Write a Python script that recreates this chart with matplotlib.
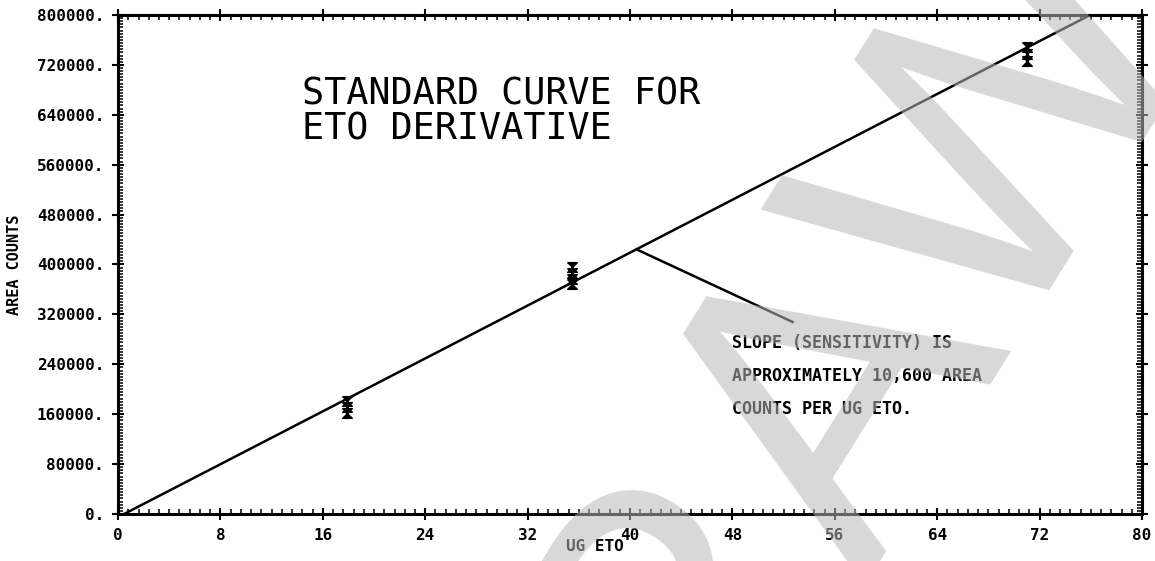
import numpy as np
import matplotlib
matplotlib.use('Agg')
import matplotlib.pyplot as plt
from matplotlib.path import Path
from matplotlib.ticker import MultipleLocator, FixedLocator

# replicate injections: ug ETO vs peak area counts
ug = [17.9, 17.9, 17.9, 35.5, 35.5, 35.5, 35.5, 71.0, 71.0, 71.0]
counts = [162000, 172000, 181000, 368000, 377000, 387000, 396000,
          727000, 738000, 748000]

# least squares line
slope = 10600
intercept = -5000
fit_x = np.array([0.0, 80.0])

xticks = np.arange(0, 81, 8)
yticks = np.arange(0, 800001, 80000)
xtick_labels = [str(v) for v in xticks]
ytick_labels = ['%d.' % v for v in yticks]

title_lines = ['STANDARD CURVE FOR', 'ETO DERIVATIVE']
note_lines = ['SLOPE (SENSITIVITY) IS', 'APPROXIMATELY 10,600 AREA',
              'COUNTS PER UG ETO.']

mono = 'DejaVu Sans Mono'

fig = plt.figure(figsize=(11.55, 5.61), dpi=100)
ax = fig.add_axes([0.1022, 0.0838, 0.8866, 0.8895])

ax.plot(fit_x, slope * fit_x + intercept, color='black', lw=1.8)

# hourglass marker for the measured points
bowtie = Path([(-1, 1), (1, 1), (-1, -1), (1, -1), (-1, 1)])
ax.plot(ug, counts, ls='none', marker=bowtie, ms=7, color='black')

# leader from the line to the note
x0 = 40.5
ax.plot([x0, 52.7], [slope * x0 + intercept, 307800], color='black', lw=1.8)

ax.set_xlim(0, 80)
ax.set_ylim(0, 800000)
ax.xaxis.set_major_locator(FixedLocator(xticks))
ax.yaxis.set_major_locator(FixedLocator(yticks))
ax.xaxis.set_minor_locator(MultipleLocator(0.8))
ax.yaxis.set_minor_locator(MultipleLocator(5000))
ax.set_xticklabels(xtick_labels, family=mono, weight='bold', fontsize=11.5)
ax.set_yticklabels(ytick_labels, family=mono, weight='bold', fontsize=11.5)

ax.tick_params(which='major', direction='inout', length=8, width=1.5,
               top=True, right=True, pad=6)
ax.tick_params(which='minor', direction='in', length=3.5, width=1.1,
               top=True, right=True)
for s in ax.spines.values():
    s.set_linewidth(2.2)

ax.set_xlabel('UG ETO', family=mono, weight='bold', fontsize=11.5)
ax.xaxis.set_label_coords(0.466, -0.05)
ax.set_ylabel('AREA COUNTS', family=mono, weight='bold', fontsize=11)
ax.yaxis.set_label_coords(-0.094, 0.5)

ax.text(14.4, 655700, title_lines[0], family=mono, fontsize=26.5,
        va='baseline', ha='left')
ax.text(14.4, 599600, title_lines[1], family=mono, fontsize=26.5,
        va='baseline', ha='left')

for i, line in enumerate(note_lines):
    ax.text(48.0, 274000 - i * 53000, line, family=mono, weight='bold',
            fontsize=12, va='center', ha='left')

# stamp across the sheet
fig.text(0.737, 0.38, 'DRAWN', rotation=58, fontsize=300, color='0.72',
         alpha=0.55, family='Liberation Sans', ha='center', va='center',
         zorder=10)

fig.savefig('out.png', dpi=100)
